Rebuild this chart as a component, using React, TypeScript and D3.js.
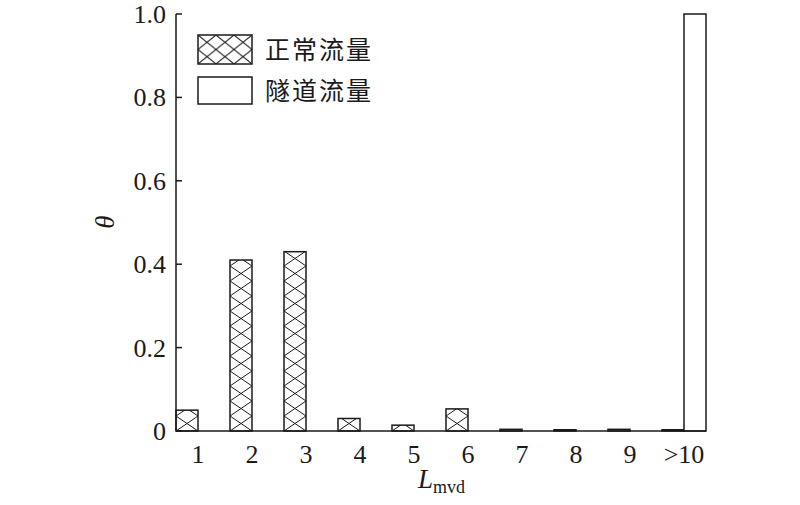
import React from "react";
import * as d3 from "d3";

const categories = ["1", "2", "3", "4", "5", "6", "7", "8", "9", ">10"];
const normalFlow = [0.05, 0.41, 0.43, 0.03, 0.014, 0.053, 0.004, 0.003, 0.004, 0.003];
const tunnelFlow = [0, 0, 0, 0, 0, 0, 0, 0, 0, 1.0];
const yTicks = [0, 0.2, 0.4, 0.6, 0.8, 1.0];
const seriesNames = ["正常流量", "隧道流量"];

const W = 800;
const H = 505;
const left = 176;
const right = 706;
const top = 14;
const bottom = 431;

const serif = "'Liberation Serif', 'Times New Roman', serif";
const cjk = "'Noto Sans CJK SC', sans-serif";
const ink = "#1a1a1a";

export default function App() {
  const x = d3
    .scaleBand<string>()
    .domain(categories)
    .range([left, right])
    .paddingInner(10 / 54)
    .paddingOuter(0);
  const sub = d3
    .scaleBand<string>()
    .domain(["normal", "tunnel"])
    .range([0, x.bandwidth()]);
  const y = d3.scaleLinear().domain([0, 1]).range([bottom, top]);

  const fmt = (v: number) => (v === 0 ? "0" : d3.format(".1f")(v));
  const bw = sub.bandwidth();
  const hatchH = 15;

  return (
    <div style={{ position: "absolute", left: 0, top: 0 }}>
      <svg width={W} height={H} viewBox={`0 0 ${W} ${H}`} style={{ display: "block", background: "#fff" }}>
        <defs>
          {categories.map((c, i) => (
            <pattern
              key={c}
              id={`cross-${i}`}
              patternUnits="userSpaceOnUse"
              width={bw}
              height={hatchH}
              x={x(c)! + sub("normal")!}
              y={bottom}
            >
              <rect width={bw} height={hatchH} fill="#fff" />
              <path
                d={`M0,0 L${bw},${hatchH} M${bw},0 L0,${hatchH}`}
                stroke={ink}
                strokeWidth={1}
              />
            </pattern>
          ))}
          <pattern id="crossLegend" patternUnits="userSpaceOnUse" width={18} height={14.5} x={198} y={35}>
            <rect width={18} height={14.5} fill="#fff" />
            <path d="M0,0 L18,14.5 M18,0 L0,14.5" stroke={ink} strokeWidth={1} />
          </pattern>
        </defs>

        {/* bars */}
        {categories.map((c, i) => {
          const x0 = x(c)!;
          const n = normalFlow[i];
          const t = tunnelFlow[i];
          return (
            <g key={c}>
              {n > 0 && (
                <rect
                  x={x0 + sub("normal")!}
                  y={y(n)}
                  width={bw}
                  height={bottom - y(n)}
                  fill={`url(#cross-${i})`}
                  stroke={ink}
                  strokeWidth={1.5}
                />
              )}
              {t > 0 && (
                <rect
                  x={x0 + sub("tunnel")!}
                  y={y(t)}
                  width={bw}
                  height={bottom - y(t)}
                  fill="#fff"
                  stroke={ink}
                  strokeWidth={1.5}
                />
              )}
            </g>
          );
        })}

        {/* axes */}
        <line x1={left} x2={left} y1={top} y2={bottom} stroke={ink} strokeWidth={1.5} />
        <line x1={left} x2={right} y1={bottom} y2={bottom} stroke={ink} strokeWidth={1.5} />
        {yTicks.map((v) => (
          <g key={v}>
            <line x1={left} x2={left + 6} y1={y(v)} y2={y(v)} stroke={ink} strokeWidth={1.5} />
            <text
              x={left - 10}
              y={y(v) + 9}
              textAnchor="end"
              fontFamily={serif}
              fontSize={26}
              fill={ink}
            >
              {fmt(v)}
            </text>
          </g>
        ))}
        {categories.map((c) => (
          <text
            key={c}
            x={x(c)! + x.bandwidth() / 2}
            y={463}
            textAnchor="middle"
            fontFamily={serif}
            fontSize={26}
            fill={ink}
          >
            {c}
          </text>
        ))}

        {/* axis titles */}
        <text
          transform="translate(114,222) rotate(-90)"
          textAnchor="middle"
          fontFamily={serif}
          fontStyle="italic"
          fontSize={27}
          fill={ink}
        >
          θ
        </text>
        <text x={418} y={488} fontFamily={serif} fontSize={27} fill={ink}>
          <tspan fontStyle="italic">L</tspan>
          <tspan fontSize={18} dy={5}>mvd</tspan>
        </text>

        {/* legend */}
        <rect x={198} y={35} width={54} height={29} fill="url(#crossLegend)" stroke={ink} strokeWidth={1.5} />
        <rect x={198} y={77} width={54} height={27} fill="#fff" stroke={ink} strokeWidth={1.5} />
        <text x={265} y={59} fontFamily={cjk} fontSize={25} fill={ink} letterSpacing={2}>
          {seriesNames[0]}
        </text>
        <text x={265} y={100} fontFamily={cjk} fontSize={25} fill={ink} letterSpacing={2}>
          {seriesNames[1]}
        </text>
      </svg>
    </div>
  );
}
